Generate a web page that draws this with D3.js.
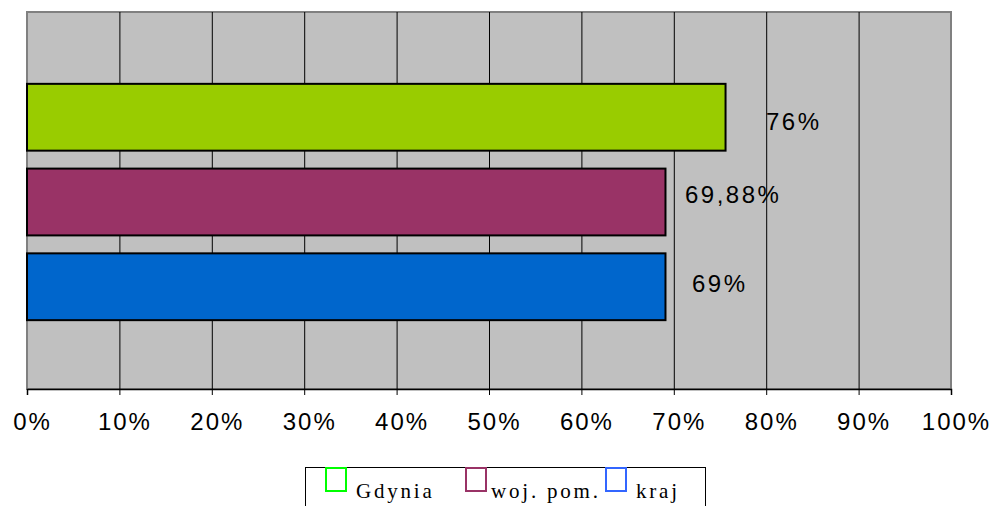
<!DOCTYPE html>
<html><head><meta charset="utf-8">
<script src="https://cdn.jsdelivr.net/npm/d3@7"></script>
<style>body{margin:0;background:#fff;} svg{display:block;}</style>
</head><body>
<svg id="c" width="1001" height="506"></svg>
<script>
const categories = ["Gdynia", "woj. pom.", "kraj"];
const values = [75.6, 69.1, 69.1];
const valueLabels = ["76%", "69,88%", "69%"];
const barColors = ["#99cc00", "#993366", "#0066cc"];
const legendColors = ["#00ff00", "#993366", "#3366ff"];
const ticks = [0,10,20,30,40,50,60,70,80,90,100];

const svg = d3.select("#c");
const L = 27, R = 951, T = 12, B = 389;
const x = d3.scaleLinear().domain([0,100]).range([L,R]);
const y = d3.scaleBand().domain(categories).range([T+1.5,B+1.5]).paddingInner(18/85).paddingOuter(0.83);

svg.append("rect").attr("x",L).attr("y",T).attr("width",R-L).attr("height",B-T)
  .attr("fill","#c0c0c0").attr("stroke","#808080").attr("stroke-width",2);

svg.append("g").selectAll("line").data(ticks.slice(1,-1)).join("line")
  .attr("x1",d=>x(d)+0.5).attr("x2",d=>x(d)+0.5).attr("y1",T).attr("y2",B)
  .attr("stroke","#000").attr("stroke-width",1);

const ax = svg.append("g").attr("transform",`translate(0,${B})`)
  .call(d3.axisBottom(x).tickValues(ticks).tickSize(6).tickFormat(d=>d+"%"));
ax.select(".domain").attr("stroke","#000").attr("stroke-width",1.5);
ax.selectAll(".tick line").attr("stroke","#000");
ax.selectAll("text").attr("font-family","Liberation Sans, Arial, sans-serif")
  .attr("font-size",24).attr("letter-spacing","2px").attr("fill","#000")
  .attr("dy",null).attr("y",41).attr("dx","5px");

svg.append("g").selectAll("rect").data(values).join("rect")
  .attr("x",x(0)).attr("y",(d,i)=>y(categories[i]))
  .attr("width",d=>x(d)-x(0)).attr("height",y.bandwidth())
  .attr("fill",(d,i)=>barColors[i]).attr("stroke","#000").attr("stroke-width",2);

const lblX = [766, 685, 692];
const lblDy = [13, 1, 5.5];
svg.append("g").selectAll("text").data(valueLabels).join("text")
  .attr("x",(d,i)=>lblX[i]).attr("y",(d,i)=>y(categories[i])+y.bandwidth()/2+lblDy[i])
  .attr("font-family","Liberation Sans, Arial, sans-serif").attr("font-size",24)
  .attr("letter-spacing","2.5px").attr("fill","#000").text(d=>d);

// legend
svg.append("rect").attr("x",305.5).attr("y",467.5).attr("width",400).attr("height",60)
  .attr("fill","#fff").attr("stroke","#000").attr("stroke-width",1);
const sqX = [325, 465, 605], txX = [356, 491, 636];
const lg = svg.append("g");
lg.selectAll("rect").data(categories).join("rect")
  .attr("x",(d,i)=>sqX[i]+1).attr("y",468).attr("width",20).attr("height",23)
  .attr("fill","none").attr("stroke",(d,i)=>legendColors[i]).attr("stroke-width",2);
lg.selectAll("text").data(categories).join("text")
  .attr("x",(d,i)=>txX[i]).attr("y",498)
  .attr("font-family","Liberation Serif, Times New Roman, serif").attr("font-size",21)
  .attr("letter-spacing","2.8px").attr("fill","#000").text(d=>d);
</script>
</body></html>
